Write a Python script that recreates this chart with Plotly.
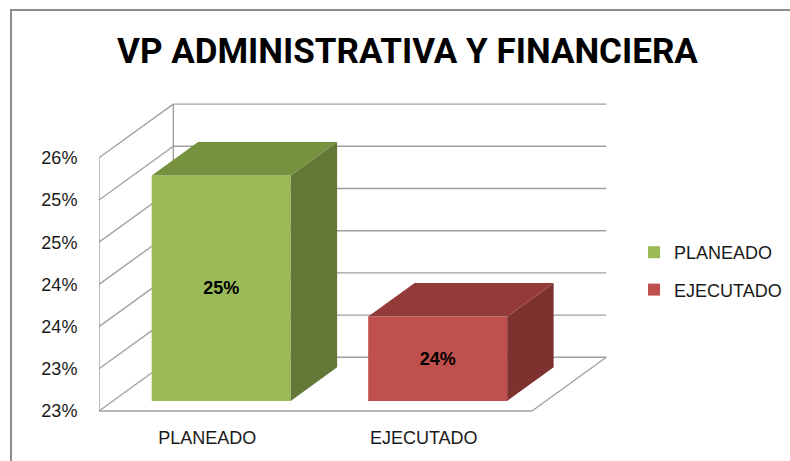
import math
import plotly.graph_objects as go

# ---------------- data ----------------
categories = ["PLANEADO", "EJECUTADO"]
values_pct = [25.17, 23.50]          # percent values
front_colors = ["#9BBB59", "#C0504D"]
top_colors = ["#77923F", "#943B39"]
side_colors = ["#647837", "#7D3230"]
tick_values = [22.5, 23.0, 23.5, 24.0, 24.5, 25.0, 25.5]
tick_labels = ["23%", "23%", "24%", "24%", "25%", "25%", "26%"]
value_labels = ["%d%%" % math.floor(v + 0.5) for v in values_pct]
title_text = "VP ADMINISTRATIVA Y FINANCIERA"

# ---------------- layout geometry ----------------
W, H = 790, 461
L, R_PX, T, B = 99, 790, 90, 420          # plot area in pixels
plotW, plotH = R_PX - L, B - T
PX_PER_CAT = 216.5
PX_PER_PCT = 84.4
FLOOR_PX = 411
BASE = tick_values[0]
TOPV = tick_values[-1]
DX = 74.3 / PX_PER_CAT                    # full depth, category units
DY = 53.7 / PX_PER_PCT                    # full depth, percent units
D0, BD = 0.1875, 0.625                    # bar depth start & depth span
BAR_W = 0.642

x_range = [-0.5, -0.5 + plotW / PX_PER_CAT]
y_range = [BASE - (B - FLOOR_PX) / PX_PER_PCT, BASE + (FLOOR_PX - T) / PX_PER_PCT]

fig = go.Figure()

# side & top faces (drawn from the values)
for i, (cat, v) in enumerate(zip(categories, values_pct)):
    xc = i + D0 * DX
    xl, xr = xc - BAR_W / 2, xc + BAR_W / 2
    b0 = BASE + D0 * DY
    vt = v + D0 * DY
    ddx, ddy = BD * DX, BD * DY
    fig.add_trace(go.Scatter(
        x=[xr, xr, xr + ddx, xr + ddx, xr], y=[b0, vt, vt + ddy, b0 + ddy, b0],
        mode="lines", fill="toself", fillcolor=side_colors[i],
        line=dict(width=0, color=side_colors[i]), showlegend=False, hoverinfo="skip"))
    fig.add_trace(go.Scatter(
        x=[xl, xr, xr + ddx, xl + ddx, xl], y=[vt, vt, vt + ddy, vt + ddy, vt],
        mode="lines", fill="toself", fillcolor=top_colors[i],
        line=dict(width=0, color=top_colors[i]), showlegend=False, hoverinfo="skip"))

# front faces as bars
for i, (cat, v) in enumerate(zip(categories, values_pct)):
    fig.add_trace(go.Bar(
        x=[i + D0 * DX], y=[v - BASE], base=[BASE + D0 * DY], width=[BAR_W],
        name=cat, legendgroup=cat,
        marker=dict(color=front_colors[i], line=dict(width=0)),
        text=[value_labels[i]], textposition="inside", insidetextanchor="middle",
        textangle=0, constraintext="none",
        textfont=dict(family="Liberation Sans", size=18, color="#000000", weight="bold"),
        hoverinfo="skip"))

# walls / gridlines
GRID = dict(color="#A0A0A0", width=1.4)
shapes = []
for v in tick_values:
    shapes.append(dict(type="line", x0=-0.5, y0=v, x1=-0.5 + DX, y1=v + DY, line=GRID, layer="below"))
    shapes.append(dict(type="line", x0=-0.5 + DX, y0=v + DY, x1=1.5 + DX, y1=v + DY, line=GRID, layer="below"))
shapes.append(dict(type="line", x0=-0.5, y0=BASE, x1=-0.5, y1=TOPV, line=GRID, layer="below"))
shapes.append(dict(type="line", x0=-0.5 + DX, y0=BASE + DY, x1=-0.5 + DX, y1=TOPV + DY, line=GRID, layer="below"))
shapes.append(dict(type="line", x0=-0.5, y0=BASE, x1=1.5, y1=BASE, line=GRID, layer="below"))
shapes.append(dict(type="line", x0=1.5, y0=BASE, x1=1.5 + DX, y1=BASE + DY, line=GRID, layer="below"))

# outer chart border (left & top edges visible)
def px_to_paper_x(px):
    return (px - L) / plotW
def px_to_paper_y(py):
    return (B - py) / plotH
shapes.append(dict(type="rect", xref="paper", yref="paper",
                   x0=px_to_paper_x(11), x1=px_to_paper_x(820),
                   y0=px_to_paper_y(490), y1=px_to_paper_y(10),
                   line=dict(color="#8C8C8C", width=2), layer="below"))

fig.update_layout(
    width=W, height=H,
    margin=dict(l=L, r=W - R_PX, t=T, b=H - B, autoexpand=False),
    paper_bgcolor="white", plot_bgcolor="white",
    barmode="overlay",
    shapes=shapes,
    title=dict(text="<b>" + title_text + "</b>", x=407.5 / W, xref="container", xanchor="center",
               y=1 - 51 / H, yref="container", yanchor="middle",
               font=dict(family="Roboto", size=35, color="#000000")),
    font=dict(family="Liberation Sans", size=18, color="#1A1A1A"),
    xaxis=dict(range=x_range, tickvals=[0, 1], ticktext=categories, showgrid=False,
               zeroline=False, showline=False, ticks="outside", ticklen=1, automargin=False,
               tickcolor="rgba(0,0,0,0)", fixedrange=True),
    yaxis=dict(range=y_range, tickvals=tick_values, ticktext=tick_labels, showgrid=False,
               zeroline=False, showline=False, ticks="outside", ticklen=17, automargin=False,
               tickcolor="rgba(0,0,0,0)", fixedrange=True),
    legend=dict(x=px_to_paper_x(634), y=px_to_paper_y(234), xanchor="left", yanchor="top",
                traceorder="grouped", tracegroupgap=11, bgcolor="rgba(0,0,0,0)",
                font=dict(family="Liberation Sans", size=18, color="#1A1A1A")),
    showlegend=True,
)

fig.write_html("out.html", config={"displayModeBar": False},
               post_script="document.body.style.margin='0px';")
